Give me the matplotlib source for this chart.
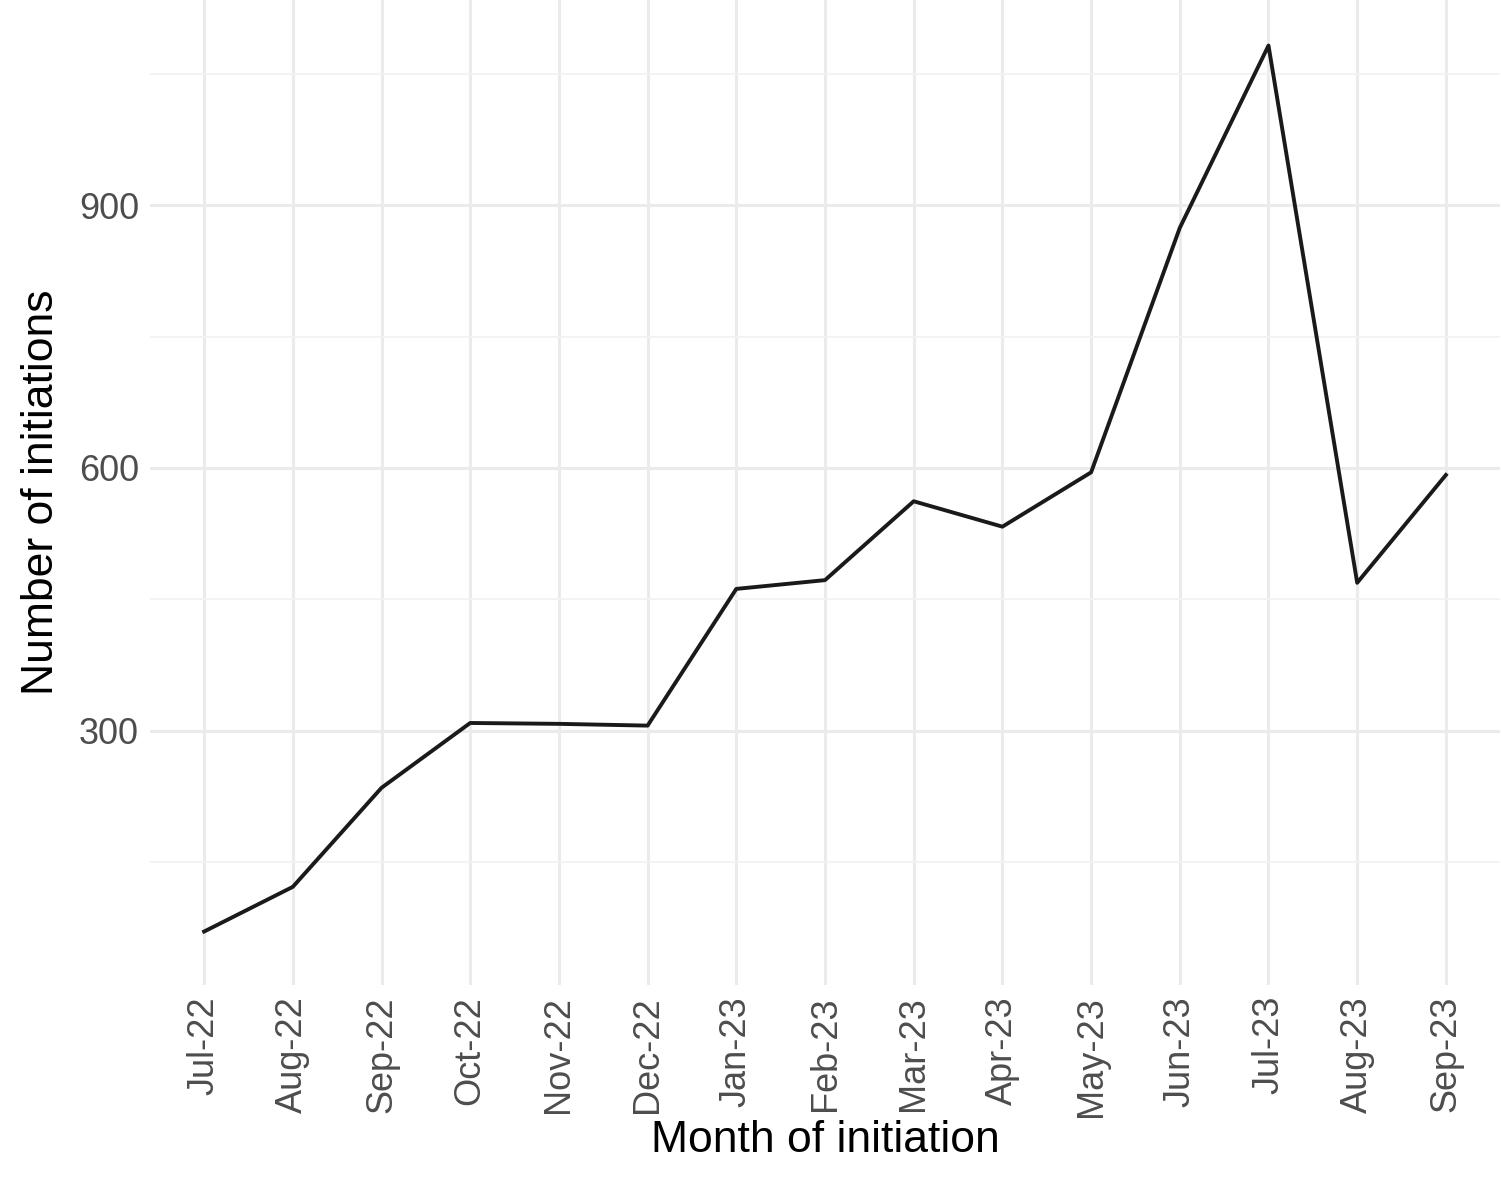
import matplotlib
matplotlib.use("Agg")
import matplotlib.pyplot as plt
import numpy as np

plt.rcParams["font.family"] = "Liberation Sans"

months = ["Jul-22", "Aug-22", "Sep-22", "Oct-22", "Nov-22", "Dec-22", "Jan-23",
          "Feb-23", "Mar-23", "Apr-23", "May-23", "Jun-23", "Jul-23", "Aug-23", "Sep-23"]
initiations = [71, 122, 235, 309, 308, 306, 462, 472, 562, 533, 595, 874, 1082, 469, 592]

fig = plt.figure(figsize=(15.01, 11.8), dpi=100)
ax = fig.add_axes([150 / 1501, 195 / 1180, 1350 / 1501, 985 / 1180])

x = np.arange(len(months))
ax.plot(x, initiations, color="#1a1a1a", linewidth=2.8, zorder=3)

ax.set_xlim(-0.61, len(months) - 1 + 0.61)
ax.set_ylim(10, 1134)
ax.set_yticks([300, 600, 900])
ax.set_yticks([150, 450, 750, 1050], minor=True)
ax.set_xticks(x)
ax.set_xticklabels(months, rotation=90)

ax.grid(True, which="major", color="#ebebeb", linewidth=2.2)
ax.grid(True, which="minor", axis="y", color="#f3f3f3", linewidth=1.4)
for s in ax.spines.values():
    s.set_visible(False)
ax.tick_params(length=0, labelsize=26, labelcolor="#4d4d4d", pad=8)
ax.tick_params(which="minor", length=0)

ax.set_xlabel("Month of initiation", fontsize=32, labelpad=2)
ax.set_ylabel("Number of initiations", fontsize=32, labelpad=12)

fig.savefig("out.png", dpi=100)
